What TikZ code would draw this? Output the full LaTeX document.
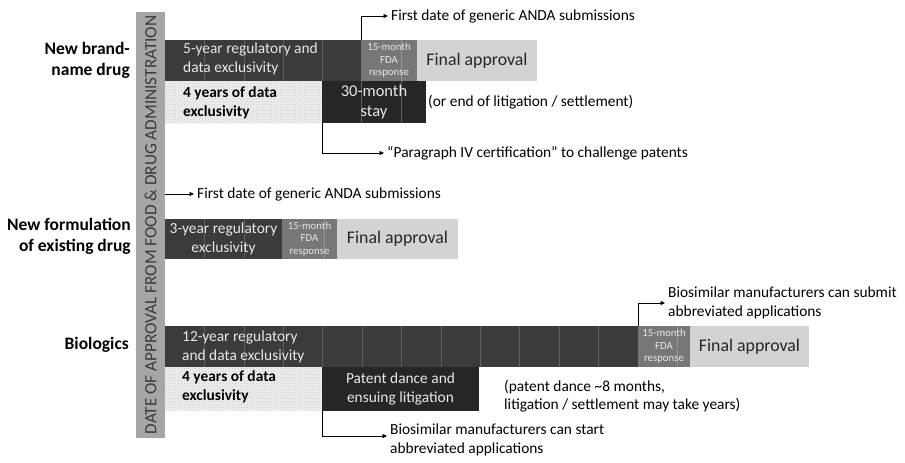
\documentclass[tikz,border=0pt]{standalone}
\usepackage{fontspec}
\setmainfont{Carlito}
\usetikzlibrary{arrows.meta,patterns}
\definecolor{cvbar}{HTML}{A6A6A6}
\definecolor{cvtxt}{HTML}{3A3A3A}
\definecolor{cdark}{HTML}{3B3B3B}
\definecolor{cdarker}{HTML}{262626}
\definecolor{cfifteen}{HTML}{777777}
\definecolor{cfinal}{HTML}{D3D3D3}
\definecolor{cdots}{HTML}{EEEEEE}
\definecolor{cgrid}{HTML}{606060}
\definecolor{cgridl}{HTML}{959595}
\definecolor{clight}{HTML}{E8E8E8}
\begin{document}
\begin{tikzpicture}[x=1pt,y=-1pt,
  seg/.style={anchor=north west, inner sep=0pt, outer sep=0pt, draw=none},
  darkseg/.style={seg, fill=cdark},
  darkerseg/.style={seg, fill=cdarker},
  fifteenseg/.style={seg, fill=cfifteen},
  finalseg/.style={seg, fill=cfinal},
  dotseg/.style={seg, fill=cdots, postaction={pattern=crosshatch dots, pattern color=gray!45}},
  gridline/.style={draw=cgrid, line width=0.6pt},
  gridlinel/.style={draw=cgridl, line width=0.6pt},
  bartxt/.style={inner sep=0pt, align=left, text=clight, font=\fontsize{15.4}{18.5}\selectfont},
  boldtxt/.style={inner sep=0pt, align=left, text=black, font=\fontsize{15.4}{19.5}\selectfont\bfseries},
  fifteentxt/.style={inner sep=0pt, align=center, text=clight, font=\fontsize{10.8}{12.5}\selectfont},
  finaltxt/.style={inner sep=0pt, text=cdarker, font=\fontsize{17.8}{20}\selectfont},
  lbl/.style={inner sep=0pt, align=right, anchor=east, text=black, font=\fontsize{17.5}{21}\selectfont\bfseries},
  note/.style={inner sep=0pt, align=left, anchor=west, text=black, font=\fontsize{15.4}{18.5}\selectfont},
  arr/.style={draw=black, line width=0.7pt, shorten >=3pt, -{Triangle[length=4.5pt,width=4pt]}}
]
\useasboundingbox (0,0) rectangle (905,463);

% vertical axis bar
\node[seg, fill=cvbar, minimum width=29pt, minimum height=426pt] (vbar) at (136,12) {};
\node[rotate=90, text=cvtxt, inner sep=0pt, font=\fontsize{17.2}{18}\selectfont] (vtxt) at (vbar.center) {DATE OF APPROVAL FROM FOOD \& DRUG ADMINISTRATION};

% ---------------- New brand-name drug
\node[lbl] (l1) at (130,60) {New brand-\\name drug};
\node[darkseg, minimum width=196pt, minimum height=41pt] (b1a) at (165,40) {};
\node[fifteenseg, minimum width=56pt, minimum height=41pt] (b1b) at (361,40) {};
\node[finalseg, minimum width=120pt, minimum height=41pt] (b1c) at (417,40) {};
\node[dotseg, minimum width=157pt, minimum height=42pt] (b1d) at (165,81) {};
\node[darkerseg, minimum width=104pt, minimum height=42pt] (b1e) at (322,81) {};
\foreach \k in {1,...,4} \draw[gridline] (165+\k*39.4,40) -- (165+\k*39.4,81);
\draw[gridlinel] (401,40) -- (401,81);
\draw[gridline] (361,81) -- (361,123);
\draw[gridline] (401,81) -- (401,123);
\node[bartxt, anchor=west] (t1a) at (183,59) {5-year regulatory and\\data exclusivity};
\node[fifteentxt] (t1b) at (b1b.center) {15-month\\FDA\\response};
\node[finaltxt] (t1c) at (b1c.center) {Final approval};
\node[boldtxt, anchor=west] (t1d) at (183,103) {4 years of data\\exclusivity};
\node[inner sep=0pt, align=center, text=clight, font=\fontsize{16.5}{20}\selectfont] (t1e) at (b1e.center) {30-month\\stay};
\node[note] (n1a) at (428,102) {(or end of litigation / settlement)};
\node[note] (n1b) at (391,16) {First date of generic ANDA submissions};
\node[note] (n1c) at (387,153) {“Paragraph IV certification” to challenge patents};
\draw[arr] (b1a.north east) |- (n1b.west);
\draw[arr] (b1e.south west) |- (n1c.west);

% ---------------- New formulation
\node[lbl] (l2) at (131,236) {New formulation\\of existing drug};
\node[darkseg, minimum width=117pt, minimum height=40pt] (b2a) at (165,219) {};
\node[fifteenseg, minimum width=55pt, minimum height=40pt] (b2b) at (282,219) {};
\node[finalseg, minimum width=121pt, minimum height=40pt] (b2c) at (337,219) {};
\foreach \k in {1,2} \draw[gridline] (165+\k*39.4,219) -- (165+\k*39.4,259);
\draw[gridlinel] (324,219) -- (324,259);
\node[bartxt, align=center] (t2a) at (b2a.center) {3-year regulatory\\exclusivity};
\node[fifteentxt] (t2b) at (b2b.center) {15-month\\FDA\\response};
\node[finaltxt] (t2c) at (b2c.center) {Final approval};
\node[note] (n2a) at (197,194) {First date of generic ANDA submissions};
\draw[arr] (vbar.east |- n2a.west) -- (n2a.west);

% ---------------- Biologics
\node[lbl] (l3) at (129,345) {Biologics};
\node[darkseg, minimum width=473pt, minimum height=41pt] (b3a) at (165,326) {};
\node[fifteenseg, minimum width=52pt, minimum height=41pt] (b3b) at (638,326) {};
\node[finalseg, minimum width=119pt, minimum height=41pt] (b3c) at (690,326) {};
\node[dotseg, minimum width=157pt, minimum height=43pt] (b3d) at (165,367) {};
\node[darkerseg, minimum width=157pt, minimum height=44pt] (b3e) at (322,367) {};
\foreach \k in {1,...,11} \draw[gridline] (165+\k*39.4,326) -- (165+\k*39.4,367);
\draw[gridlinel] (677.5,326) -- (677.5,367);
\node[bartxt, anchor=west] (t3a) at (182,347) {12-year regulatory\\and data exclusivity};
\node[fifteentxt] (t3b) at (b3b.center) {15-month\\FDA\\response};
\node[finaltxt] (t3c) at (b3c.center) {Final approval};
\node[boldtxt, anchor=west] (t3d) at (182,387) {4 years of data\\exclusivity};
\node[inner sep=0pt, align=center, text=clight, font=\fontsize{15.4}{18.5}\selectfont] (t3e) at (b3e.center) {Patent dance and\\ensuing litigation};
\node[note] (n3a) at (504,396) {(patent dance \textasciitilde 8 months,\\litigation / settlement may take years)};
\node[note] (n3b) at (668,303) {Biosimilar manufacturers can submit\\abbreviated applications};
\node[note, anchor=north west] (n3c) at (390,424) {Biosimilar manufacturers can start\\abbreviated applications};
\draw[arr] (b3a.north east) |- (n3b.west);
\draw[arr] (b3e.south west) |- ([yshift=-12pt]n3c.north west);
\end{tikzpicture}
\end{document}
